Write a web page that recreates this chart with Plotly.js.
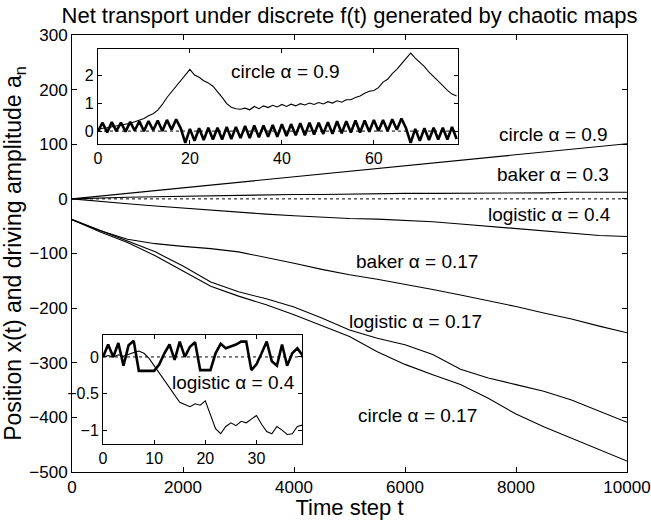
<!DOCTYPE html>
<html><head><meta charset="utf-8">
<script src="https://cdn.plot.ly/plotly-3.0.1.min.js"></script>
<style>html,body{margin:0;padding:0;background:#fff}</style>
</head><body>
<div id="chart" style="width:651px;height:520px"></div>
<script>
// ---- main panel data (time step t, sampled every 500 steps) ----
const steps = [0,500,1000,1500,2000,2500,3000,3500,4000,4500,5000,5500,6000,6500,7000,7500,8000,8500,9000,9500,10000];
const circle09   = [0,5,10,15,20,25,30,35,40,45,51,56,61,66,71,76,81,86,91,96,101];
const baker03    = [0,2,3,4,5,6,7,7,8,8,9,9,10,10,10,11,11,11,12,12,12];
const logistic04 = [0,-5,-9,-13,-17,-21,-25,-28,-31,-34,-36,-37,-39,-42,-46,-50,-54,-58,-63,-67,-69];
const baker017   = [-38,-58,-74,-82,-87,-91,-97,-107,-118,-129,-139,-147,-156,-166,-176,-186,-197,-209,-220,-233,-245];
const logistic017= [-38,-58,-77,-97,-123,-152,-170,-183,-198,-218,-240,-255,-267,-285,-312,-328,-340,-352,-368,-388,-409];
const circle017  = [-38,-60,-80,-104,-132,-160,-178,-194,-212,-232,-252,-280,-303,-322,-340,-365,-394,-417,-438,-460,-480];
const zeroLineT  = [0,10000];
const zeroLineV  = [0,0];

// ---- inset 1: circle map alpha = 0.9 ----
const inset1T = Array.from({length:79},(_,i)=>i);
const inset1X = [0.05,0.1,0.12,0.15,0.18,0.2,0.25,0.28,0.33,0.4,0.45,0.55,0.62,0.75,0.95,1.2,1.4,1.6,1.8,2.0,
  2.2,2.0,1.92,1.8,1.72,1.6,1.42,1.2,0.98,0.85,0.8,0.78,0.82,0.76,0.88,0.8,0.9,0.84,0.92,0.86,
  0.95,0.88,0.96,0.9,0.98,0.93,1.0,0.95,1.02,0.97,1.05,1.0,1.08,1.03,1.12,1.12,1.2,1.25,1.35,1.42,
  1.45,1.55,1.75,1.85,2.05,2.2,2.4,2.6,2.78,2.6,2.45,2.3,2.1,1.95,1.8,1.62,1.45,1.32,1.25];
const inset1A = [0.0,0.3,-0.05,0.32,0.0,0.3,-0.02,0.33,0.02,0.35,0.0,0.36,0.03,0.38,0.0,0.4,0.05,0.42,
  0.1,-0.42,0.08,-0.35,0.1,-0.32,0.12,-0.3,0.12,-0.3,0.15,-0.28,0.15,-0.25,0.18,-0.25,0.2,-0.22,0.2,-0.2,
  0.22,-0.2,0.25,-0.18,0.25,-0.15,0.28,-0.15,0.3,-0.12,0.3,-0.1,0.32,-0.1,0.35,-0.08,0.35,-0.05,0.38,-0.05,
  0.38,-0.02,0.4,0.0,0.4,0.0,0.42,0.05,0.45,0.1,-0.42,0.08,-0.35,0.1,-0.32,0.12,-0.3,0.12,-0.3,0.15,-0.28];
const inset1ZeroT = [0,78.3];
const inset1ZeroV = [0,0];

// ---- inset 2: logistic map alpha = 0.4 ----
const inset2T = Array.from({length:40},(_,i)=>i);
const inset2X = [0.0,0.02,0.0,0.03,0.01,0.04,0.06,0.08,0.05,-0.02,-0.12,-0.22,-0.32,-0.42,-0.52,-0.62,-0.65,-0.68,-0.64,-0.66,
  -0.6,-0.8,-0.98,-1.05,-0.95,-0.9,-0.94,-0.88,-0.9,-0.85,-0.8,-0.92,-1.02,-1.05,-0.95,-1.0,-1.06,-1.05,-0.95,-0.93];
const inset2A = [0.0,0.17,0.0,0.19,-0.12,0.16,0.22,-0.19,-0.19,-0.19,-0.19,-0.1,0.05,0.17,-0.04,0.21,0.0,0.14,0.2,-0.18,
  -0.18,-0.18,0.05,0.18,0.12,0.14,0.17,0.21,0.21,-0.18,-0.1,0.05,0.21,-0.06,-0.12,0.17,-0.12,0.05,0.12,0.02];
const inset2ZeroT = [0,38.9];
const inset2ZeroV = [0,0];

// ---- labels ----
const mainLabels = [
  {t:8676, v:117, text:'circle α = 0.9'},
  {t:8658, v:44, text:'baker α = 0.3'},
  {t:8595, v:-29, text:'logistic α = 0.4'},
  {t:6210, v:-114, text:'baker α = 0.17'},
  {t:6195, v:-224, text:'logistic α = 0.17'},
  {t:6225, v:-397, text:'circle α = 0.17'}
];
const inset1Label = {t:40.7, v:2.14, text:'circle α = 0.9'};
const inset2Label = {t:25.5, v:-0.35, text:'logistic α = 0.4'};

const FONT = 'Liberation Sans, Arial, Helvetica, sans-serif';
const thin = {color:'#000', width:1.1};

function line(x, y, xa, ya, ln){
  return {x:x, y:y, xaxis:xa, yaxis:ya, type:'scatter', mode:'lines', line:ln, hoverinfo:'skip', showlegend:false};
}

const traces = [
  line(zeroLineT, zeroLineV, 'x', 'y', {color:'#000', width:1, dash:'dot'}),
  line(steps, circle09, 'x', 'y', thin),
  line(steps, baker03, 'x', 'y', thin),
  line(steps, logistic04, 'x', 'y', thin),
  line(steps, baker017, 'x', 'y', thin),
  line(steps, logistic017, 'x', 'y', thin),
  line(steps, circle017, 'x', 'y', thin),
  line(inset1ZeroT, inset1ZeroV, 'x2', 'y2', {color:'#000', width:1, dash:'dot'}),
  line(inset1T, inset1X, 'x2', 'y2', thin),
  line(inset1T, inset1A, 'x2', 'y2', {color:'#000', width:2.6}),
  line(inset2ZeroT, inset2ZeroV, 'x3', 'y3', {color:'#000', width:1, dash:'dot'}),
  line(inset2T, inset2X, 'x3', 'y3', thin),
  line(inset2T, inset2A, 'x3', 'y3', {color:'#000', width:2.6})
];

const axBase = {
  showgrid:false, zeroline:false, showline:true, linecolor:'#000', linewidth:1,
  ticks:'inside', ticklen:5, tickwidth:1, tickcolor:'#000', mirror:'allticks',
  fixedrange:true, color:'#000'
};

const annotations = mainLabels.map(l => ({
  x:l.t, y:l.v, xref:'x', yref:'y', text:l.text, showarrow:false,
  font:{family:FONT, size:19, color:'#000'}, xanchor:'center', yanchor:'middle'
}));
annotations.push({x:inset1Label.t, y:inset1Label.v, xref:'x2', yref:'y2', text:inset1Label.text, showarrow:false,
  font:{family:FONT, size:19, color:'#000'}, xanchor:'center', yanchor:'middle'});
annotations.push({x:inset2Label.t, y:inset2Label.v, xref:'x3', yref:'y3', text:inset2Label.text, showarrow:false,
  font:{family:FONT, size:19, color:'#000'}, xanchor:'center', yanchor:'middle'});

const layout = {
  width:651, height:520, autosize:false,
  margin:{l:72, r:24, t:35, b:48, pad:0},
  paper_bgcolor:'#fff', plot_bgcolor:'#fff',
  font:{family:FONT, size:17, color:'#000'},
  showlegend:false,
  title:{text:'Net transport under discrete f(t) generated by chaotic maps',
         font:{family:FONT, size:22, color:'#000'},
         x:0.5, xref:'paper', xanchor:'center', y:1-15/520, yref:'container', yanchor:'middle'},
  xaxis: Object.assign({}, axBase, {domain:[0,1], range:[0,10000], dtick:2000, tick0:0, tickformat:'d',
         tickfont:{family:FONT, size:17},
         title:{text:'Time step t', font:{family:FONT, size:22}, standoff:0}}),
  yaxis: Object.assign({}, axBase, {domain:[0,1], range:[-500,300], dtick:100, tick0:0,
         tickfont:{family:FONT, size:17},
         title:{text:'Position x(t) and driving amplitude a<sub>n</sub>\u00A0\u00A0\u00A0\u00A0\u00A0\u00A0\u00A0\u00A0\u00A0\u00A0', font:{family:FONT, size:23}, standoff:0}}),
  xaxis2: Object.assign({}, axBase, {anchor:'y2', domain:[0.0468,0.6955], range:[0,78.3], tickvals:[0,20,40,60],
         ticklen:4, tickfont:{family:FONT, size:16}}),
  yaxis2: Object.assign({}, axBase, {anchor:'x2', domain:[0.7506,0.968], range:[-0.46,2.93], tickvals:[0,1,2],
         ticklen:4, tickfont:{family:FONT, size:16}}),
  xaxis3: Object.assign({}, axBase, {anchor:'y3', domain:[0.0559,0.4144], range:[0,38.9], tickvals:[0,10,20,30],
         ticklen:4, tickfont:{family:FONT, size:16}}),
  yaxis3: Object.assign({}, axBase, {anchor:'x3', domain:[0.0641,0.3135], range:[-1.19,0.3], tickvals:[-1,-0.5,0],
         ticklen:4, tickfont:{family:FONT, size:16}}),
  annotations: annotations
};

Plotly.newPlot('chart', traces, layout, {staticPlot:true, displayModeBar:false});
</script>
</body></html>
